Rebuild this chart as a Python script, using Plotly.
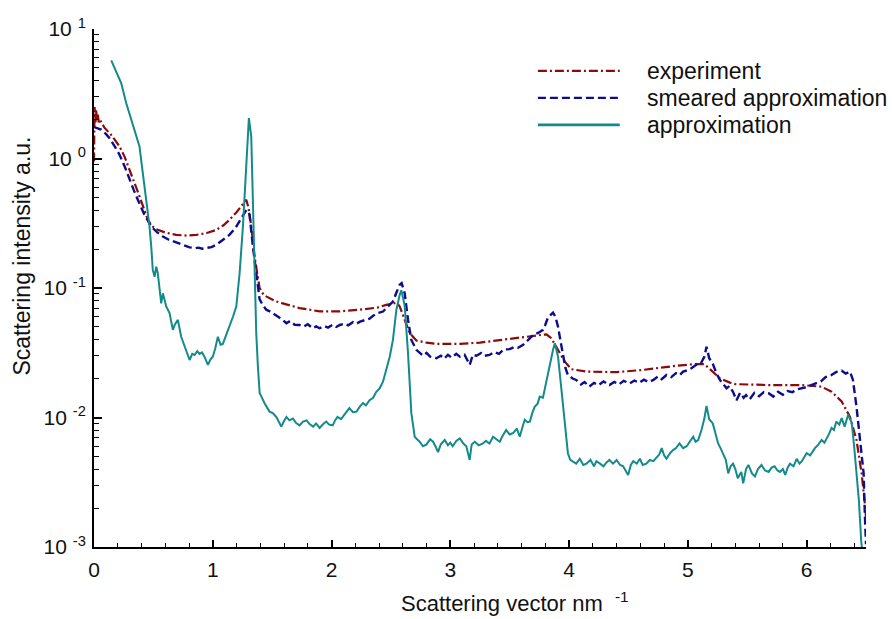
import plotly.graph_objects as go

# ---- measured curves: scattering vector (nm^-1) vs intensity (a.u.) ----
exp_q = [0.0, 0.005, 0.012, 0.018, 0.025, 0.032, 0.04, 0.05, 0.07, 0.088, 0.15, 0.215, 0.26, 0.30, 0.34,
         0.383, 0.42, 0.453, 0.49, 0.524, 0.60, 0.692, 0.78, 0.861, 0.95, 1.03, 1.09, 1.14, 1.20, 1.254,
         1.282, 1.30, 1.324, 1.352, 1.38, 1.394, 1.43, 1.478, 1.53, 1.59, 1.73, 1.90, 2.07, 2.24, 2.39,
         2.46, 2.517, 2.55, 2.574, 2.616, 2.658, 2.714, 2.80, 2.883, 3.08, 3.25, 3.40, 3.50, 3.67, 3.81,
         3.85, 3.907, 3.964, 4.02, 4.147, 4.40, 4.62, 4.905, 5.045, 5.14, 5.21, 5.27, 5.354, 5.40, 5.68,
         5.96, 6.126, 6.21, 6.295, 6.365, 6.42, 6.463, 6.49, 6.5]
exp_i = [0.95, 2.5, 1.9, 2.4, 1.95, 2.2, 1.9, 2.0, 1.85, 1.73, 1.5, 1.24, 1.02, 0.82, 0.65,
         0.51, 0.41, 0.336, 0.30, 0.285, 0.268, 0.257, 0.254, 0.257, 0.266, 0.281, 0.305, 0.336, 0.385, 0.452,
         0.48, 0.42, 0.30, 0.175, 0.116, 0.10, 0.088, 0.083, 0.079, 0.076, 0.070, 0.066, 0.066, 0.068, 0.0707,
         0.074, 0.0764, 0.077, 0.072, 0.0566, 0.0448, 0.0393, 0.0378, 0.037, 0.037, 0.0379, 0.0393, 0.0402, 0.042, 0.0439,
         0.041, 0.0333, 0.027, 0.0236, 0.0226, 0.0224, 0.0233, 0.0251, 0.0258, 0.0258, 0.0226, 0.0201, 0.0186, 0.0181, 0.0178,
         0.0178, 0.0173, 0.0158, 0.0133, 0.0101, 0.0067, 0.0037, 0.00217, 0.0017]

smear_q = [0.0, 0.03, 0.06, 0.10, 0.13, 0.17, 0.215, 0.26, 0.30, 0.335, 0.369, 0.40, 0.425, 0.455, 0.482,
           0.53, 0.58, 0.63, 0.692, 0.75, 0.805, 0.85, 0.88, 0.91, 0.945, 0.99, 1.03, 1.08, 1.14, 1.19,
           1.226, 1.26, 1.282, 1.30, 1.31, 1.338, 1.366, 1.394, 1.42, 1.45, 1.48, 1.52, 1.55, 1.59, 1.62,
           1.65, 1.69, 1.73, 1.77, 1.80, 1.84, 1.87, 1.90, 1.94, 1.97, 2.01, 2.04, 2.07, 2.11, 2.14,
           2.18, 2.21, 2.24, 2.28, 2.32, 2.35, 2.39, 2.433, 2.47, 2.517, 2.55, 2.574, 2.59, 2.616, 2.644,
           2.672, 2.714, 2.77, 2.80, 2.83, 2.883, 2.92, 2.95, 2.98, 3.01, 3.05, 3.08, 3.12, 3.163, 3.19,
           3.22, 3.26, 3.29, 3.33, 3.37, 3.41, 3.45, 3.50, 3.54, 3.57, 3.61, 3.65, 3.70, 3.74, 3.78,
           3.80, 3.82, 3.845, 3.865, 3.885, 3.907, 3.93, 3.95, 3.97, 3.99, 4.03, 4.06, 4.10, 4.13, 4.17,
           4.21, 4.25, 4.29, 4.34, 4.38, 4.42, 4.46, 4.51, 4.55, 4.59, 4.63, 4.67, 4.71, 4.75, 4.78,
           4.82, 4.86, 4.90, 4.93, 4.96, 5.00, 5.03, 5.07, 5.11, 5.14, 5.157, 5.18, 5.21, 5.24, 5.27,
           5.30, 5.326, 5.35, 5.38, 5.41, 5.44, 5.47, 5.49, 5.52, 5.56, 5.60, 5.64, 5.68, 5.72, 5.76,
           5.80, 5.84, 5.88, 5.92, 5.96, 6.00, 6.04, 6.08, 6.12, 6.16, 6.21, 6.25, 6.295, 6.33, 6.365,
           6.39, 6.42, 6.45, 6.48, 6.49, 6.50]
smear_i = [1.75, 1.72, 1.67, 1.55, 1.44, 1.26, 1.07, 0.86, 0.684, 0.57, 0.48, 0.41, 0.367, 0.33, 0.298,
           0.27, 0.25, 0.236, 0.224, 0.214, 0.206, 0.203, 0.205, 0.201, 0.203, 0.207, 0.216, 0.233, 0.257, 0.29,
           0.326, 0.37, 0.40, 0.39, 0.367, 0.209, 0.13, 0.082, 0.074, 0.068, 0.066, 0.062, 0.060, 0.0567, 0.0535,
           0.0555, 0.052, 0.0518, 0.0505, 0.0525, 0.049, 0.0505, 0.0489, 0.0508, 0.0495, 0.052, 0.050, 0.0518, 0.053, 0.0515,
           0.0545, 0.053, 0.055, 0.0565, 0.058, 0.061, 0.064, 0.0658, 0.071, 0.0786, 0.094, 0.106, 0.109, 0.091, 0.0567,
           0.0397, 0.0333, 0.030, 0.0315, 0.0295, 0.0287, 0.030, 0.0285, 0.0305, 0.029, 0.031, 0.0295, 0.0305, 0.0255, 0.0305,
           0.030, 0.0315, 0.030, 0.0304, 0.032, 0.031, 0.0335, 0.0337, 0.035, 0.0345, 0.0362, 0.039, 0.0435, 0.045, 0.0475,
           0.052, 0.0584, 0.062, 0.0646, 0.060, 0.0503, 0.038, 0.0295, 0.024, 0.0213, 0.0200, 0.0195, 0.0180, 0.0188, 0.0173,
           0.0185, 0.0178, 0.019, 0.0178, 0.0188, 0.0180, 0.0192, 0.0183, 0.0193, 0.0185, 0.0196, 0.0188, 0.0195, 0.0208, 0.0198,
           0.0213, 0.0205, 0.0220, 0.0212, 0.0226, 0.0232, 0.0240, 0.0255, 0.0262, 0.0295, 0.0352, 0.0287, 0.026, 0.022, 0.0195,
           0.0180, 0.0168, 0.0175, 0.0158, 0.0136, 0.0155, 0.0142, 0.0149, 0.0138, 0.0155, 0.0146, 0.0157, 0.0154, 0.0145, 0.0158,
           0.0150, 0.0160, 0.0157, 0.0165, 0.0168, 0.0172, 0.0178, 0.0185, 0.0190, 0.0205, 0.0213, 0.0225, 0.023, 0.0218, 0.0226,
           0.0195, 0.0121, 0.0067, 0.0037, 0.0018, 0.00105]

approx_q = [0.145, 0.18, 0.229, 0.271, 0.30, 0.327, 0.355, 0.383, 0.411, 0.44, 0.467, 0.482, 0.495, 0.51, 0.524,
            0.537, 0.552, 0.566, 0.58, 0.608, 0.636, 0.664, 0.68, 0.706, 0.734, 0.777, 0.805, 0.827, 0.847, 0.869,
            0.889, 0.91, 0.93, 0.959, 0.98, 1.0, 1.02, 1.043, 1.065, 1.085, 1.114, 1.14, 1.17, 1.198, 1.226,
            1.254, 1.282, 1.304, 1.324, 1.338, 1.352, 1.366, 1.38, 1.395, 1.41, 1.436, 1.478, 1.505, 1.535, 1.555,
            1.577, 1.60, 1.62, 1.645, 1.675, 1.70, 1.73, 1.76, 1.79, 1.815, 1.845, 1.87, 1.90, 1.93, 1.956,
            1.98, 2.01, 2.03, 2.05, 2.08, 2.11, 2.15, 2.18, 2.21, 2.24, 2.265, 2.29, 2.32, 2.35, 2.377,
            2.405, 2.433, 2.46, 2.49, 2.517, 2.546, 2.574, 2.588, 2.616, 2.644, 2.672, 2.70, 2.72, 2.742, 2.77,
            2.80, 2.83, 2.855, 2.875, 2.897, 2.92, 2.953, 2.98, 3.0, 3.02, 3.05, 3.08, 3.11, 3.135, 3.163,
            3.18, 3.206, 3.24, 3.275, 3.30, 3.33, 3.36, 3.39, 3.416, 3.44, 3.47, 3.50, 3.53, 3.56, 3.585,
            3.61, 3.627, 3.65, 3.67, 3.69, 3.71, 3.735, 3.753, 3.78, 3.81, 3.837, 3.865, 3.88, 3.907, 3.936,
            3.964, 3.99, 4.01, 4.03, 4.06, 4.09, 4.12, 4.147, 4.18, 4.21, 4.23, 4.26, 4.29, 4.315, 4.34,
            4.37, 4.40, 4.43, 4.455, 4.497, 4.52, 4.54, 4.57, 4.596, 4.62, 4.65, 4.68, 4.71, 4.74, 4.76,
            4.78, 4.80, 4.82, 4.85, 4.876, 4.90, 4.93, 4.96, 4.99, 5.02, 5.045, 5.065, 5.087, 5.115, 5.14,
            5.157, 5.18, 5.21, 5.235, 5.255, 5.275, 5.297, 5.32, 5.34, 5.36, 5.38, 5.40, 5.42, 5.45, 5.466,
            5.49, 5.51, 5.54, 5.565, 5.59, 5.62, 5.65, 5.68, 5.705, 5.73, 5.755, 5.775, 5.80, 5.82, 5.84,
            5.86, 5.89, 5.916, 5.94, 5.96, 5.98, 6.0, 6.03, 6.05, 6.07, 6.10, 6.126, 6.15, 6.17, 6.19,
            6.21, 6.23, 6.25, 6.275, 6.295, 6.32, 6.35, 6.38, 6.40, 6.42, 6.44, 6.46, 6.465]
approx_i = [5.72, 4.8, 3.83, 2.68, 2.2, 1.88, 1.57, 1.24, 0.77, 0.48, 0.30, 0.209, 0.138, 0.122, 0.146,
            0.13, 0.1025, 0.076, 0.091, 0.072, 0.064, 0.0475, 0.052, 0.0567, 0.042, 0.0322, 0.0278, 0.031, 0.0304, 0.0325,
            0.031, 0.0318, 0.0295, 0.0255, 0.028, 0.0295, 0.034, 0.042, 0.0365, 0.037, 0.0435, 0.049, 0.060, 0.072, 0.13,
            0.30, 0.867, 2.05, 1.48, 0.426, 0.116, 0.045, 0.0247, 0.0154, 0.0145, 0.0129, 0.0111, 0.0108, 0.0101, 0.0092,
            0.0085, 0.0094, 0.0101, 0.0095, 0.0098, 0.0091, 0.0087, 0.0093, 0.0095, 0.0089, 0.0085, 0.0090, 0.0083, 0.0089, 0.0093,
            0.0088, 0.0087, 0.0095, 0.0101, 0.0097, 0.0105, 0.0118, 0.0110, 0.0111, 0.0122, 0.0129, 0.0124, 0.0136, 0.0142, 0.0158,
            0.0168, 0.0189, 0.0233, 0.0295, 0.0397, 0.068, 0.0885, 0.096, 0.0728, 0.0313, 0.0108, 0.0071, 0.0068, 0.0065, 0.0060,
            0.0062, 0.0068, 0.0065, 0.0060, 0.0054, 0.0062, 0.0067, 0.0061, 0.0064, 0.0060, 0.0066, 0.0069, 0.0063, 0.0060, 0.0047,
            0.0062, 0.0065, 0.0061, 0.0063, 0.0066, 0.0063, 0.0071, 0.0068, 0.0065, 0.0072, 0.0080, 0.0074, 0.0076, 0.0082, 0.0071,
            0.0086, 0.0096, 0.0092, 0.0093, 0.0108, 0.0121, 0.0128, 0.0145, 0.0142, 0.0195, 0.0247, 0.0333, 0.0374, 0.0295, 0.0163,
            0.0090, 0.0053, 0.0047, 0.0046, 0.0044, 0.0048, 0.0043, 0.0044, 0.0047, 0.0042, 0.0046, 0.0044, 0.0042, 0.0045, 0.0047,
            0.0044, 0.0047, 0.0043, 0.0042, 0.0036, 0.0043, 0.0046, 0.0044, 0.0048, 0.0043, 0.0044, 0.0047, 0.0046, 0.0049, 0.0052,
            0.0058, 0.0051, 0.0048, 0.0053, 0.0056, 0.0058, 0.0063, 0.0058, 0.0060, 0.0066, 0.0071, 0.0065, 0.0067, 0.0080, 0.0099,
            0.0123, 0.0097, 0.0090, 0.0075, 0.0063, 0.0058, 0.0053, 0.0047, 0.0037, 0.0042, 0.0044, 0.0040, 0.0034, 0.0038, 0.0031,
            0.0040, 0.0043, 0.0037, 0.0035, 0.0040, 0.0043, 0.0039, 0.0038, 0.0041, 0.0042, 0.0039, 0.0038, 0.0040, 0.0036, 0.0041,
            0.0044, 0.0042, 0.0048, 0.0044, 0.0046, 0.0050, 0.0053, 0.0051, 0.0055, 0.0058, 0.0062, 0.0067, 0.0064, 0.0069, 0.0075,
            0.0083, 0.0080, 0.0093, 0.0088, 0.0099, 0.0085, 0.0105, 0.0091, 0.0060, 0.0037, 0.0023, 0.0011, 0.001]

series_names = ["experiment", "smeared approximation", "approximation"]
series_colors = ["#8b0a0a", "#0c0c8c", "#148a8a"]
series_dash = ["9px,3px,2px,3px", "8px,4px", "solid"]
series_width = [2.2, 2.4, 2.0]

x_tick_vals = [0, 1, 2, 3, 4, 5, 6]
y_tick_vals = [1e-3, 1e-2, 1e-1, 1e0, 1e1]
y_tick_text = ["10 <sup>-3</sup>", "10 <sup>-2</sup>", "10 <sup>-1</sup>", "10 <sup>0</sup>", "10 <sup>1</sup>"]

FONT = "Liberation Sans, Arial, Helvetica, sans-serif"
TEXT_COLOR = "#111"

fig = go.Figure()
for q, inten, name, col, dash, w in zip(
        [exp_q, smear_q, approx_q], [exp_i, smear_i, approx_i],
        series_names, series_colors, series_dash, series_width):
    fig.add_trace(go.Scatter(x=q, y=inten, mode="lines", name=name,
                             line=dict(color=col, dash=dash, width=w),
                             showlegend=False))

# legend block drawn as line samples + labels
leg_y = [0.919, 0.867, 0.815]
for yy, name, col, dash, w in zip(leg_y, series_names, series_colors, series_dash, series_width):
    fig.add_shape(type="line", xref="paper", yref="paper", x0=0.575, x1=0.681, y0=yy, y1=yy,
                  line=dict(color=col, dash=dash, width=w + 0.6 if dash == "solid" else w))
    fig.add_annotation(xref="paper", yref="paper", x=0.714, y=yy, text=name, showarrow=False,
                       xanchor="left", yanchor="middle", font=dict(family=FONT, size=23, color=TEXT_COLOR))

# axis titles
fig.add_annotation(xref="paper", yref="paper", x=0.545, y=-0.106, text="Scattering vector nm  <sup>-1</sup>",
                   showarrow=False, xanchor="center", yanchor="middle",
                   font=dict(family=FONT, size=22, color=TEXT_COLOR))
fig.add_annotation(xref="paper", yref="paper", x=-0.093, y=0.561, text="Scattering intensity a.u.",
                   showarrow=False, textangle=-90, xanchor="center", yanchor="middle",
                   font=dict(family=FONT, size=23, color=TEXT_COLOR))

minor_y = [k * 10.0 ** e for e in range(-3, 1) for k in range(2, 10)]

fig.update_layout(
    width=892, height=619,
    margin=dict(l=94, r=26, t=29, b=72),
    paper_bgcolor="white", plot_bgcolor="white",
    font=dict(family=FONT, color=TEXT_COLOR),
    xaxis=dict(range=[0, 6.5], tickvals=x_tick_vals, ticks="inside", ticklen=7, tickwidth=1.5,
               tickcolor="black", showline=True, linecolor="black", linewidth=2, showgrid=False,
               zeroline=False, tickfont=dict(size=21), ticklabelstandoff=3,
               minor=dict(dtick=0.2, ticks="inside", ticklen=4, tickwidth=1.3, tickcolor="black",
                          showgrid=False)),
    yaxis=dict(type="log", range=[-3, 1], tickvals=y_tick_vals, ticktext=y_tick_text,
               ticks="inside", ticklen=8, tickwidth=1.5, tickcolor="black", showline=True,
               linecolor="black", linewidth=2, showgrid=False, zeroline=False,
               tickfont=dict(size=21), ticklabelstandoff=2,
               minor=dict(tickvals=minor_y, ticks="inside", ticklen=5, tickwidth=1.3,
                          tickcolor="black", showgrid=False)),
)

fig.write_html("out.html")
